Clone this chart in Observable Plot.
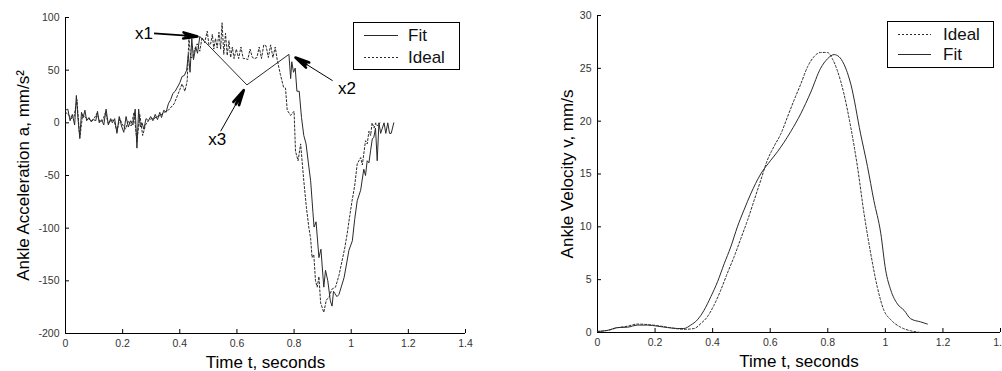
<!DOCTYPE html>
<html>
<head>
<meta charset="utf-8">
<script src="https://cdn.jsdelivr.net/npm/d3@7"></script>
<script src="https://cdn.jsdelivr.net/npm/@observablehq/plot@0.6"></script>
<style>
  html, body { margin: 0; padding: 0; background: #fff; overflow: hidden; }
  #wrap { position: relative; width: 1002px; height: 371px; overflow: hidden; font-family: "Liberation Sans", Arial, sans-serif; }
  .panel { position: absolute; top: 0; }
  .legend { position: absolute; border: 1px solid #000; background: #fff; box-sizing: border-box; }
  .legend svg { position: absolute; left: 0; top: 0; }
  .legend span { position: absolute; font-size: 17px; line-height: 1; color: #111; }
</style>
</head>
<body>
<div id="wrap">
  <div id="left" class="panel" style="left:0"></div>
  <div id="right" class="panel" style="left:500px"></div>
</div>
<script>
// ---------------- data ----------------
const xTicks = [0, 0.2, 0.4, 0.6, 0.8, 1, 1.2, 1.4];
const accTicks = [-200, -150, -100, -50, 0, 50, 100];
const velTicks = [0, 5, 10, 15, 20, 25, 30];

// Left: ankle acceleration (mm/s^2)
const fitAccT = [0.000,0.008,0.016,0.024,0.032,0.038,0.044,0.050,0.056,0.062,0.068,0.074,0.082,0.090,0.098,0.106,0.112,0.118,0.126,0.134,0.142,0.150,0.158,0.164,0.172,0.180,0.188,0.196,0.204,0.212,0.220,0.228,0.236,0.244,0.250,0.256,0.262,0.268,0.274,0.282,0.290,0.298,0.306,0.314,0.322,0.330,0.336,0.344,0.352,0.360,0.368,0.376,0.384,0.392,0.400,0.408,0.416,0.424,0.430,0.436,0.442,0.448,0.456,0.462,0.470,0.635,0.782,0.788,0.792,0.798,0.804,0.810,0.818,0.826,0.834,0.842,0.850,0.858,0.866,0.870,0.877,0.887,0.894,0.904,0.910,0.918,0.927,0.933,0.938,0.943,0.950,0.957,0.966,0.975,0.983,0.992,1.004,1.012,1.021,1.033,1.044,1.050,1.056,1.062,1.068,1.074,1.079,1.085,1.091,1.097,1.103,1.109,1.115,1.121,1.128,1.134,1.140,1.149];
const fitAccV = [12,13,2,8,-2,26,3,-14,10,5,12,2,5,1,3,2,11,0,3,-2,13,-2,4,0,4,-10,6,-3,-9,6,-4,2,-2,13,-24,13,-4,0,-6,4,2,6,2,8,3,10,5,12,10,18,22,28,30,34,38,44,45,50,65,48,80,60,72,66,82,36,65,42,58,48,52,30,30,5,-12,-20,-38,-55,-85,-99,-94,-128,-120,-156,-140,-150,-169,-174,-160,-162,-165,-163,-155,-147,-135,-121,-112,-92,-74,-64,-44,-50,-36,-38,-26,-15,-14,-5,-36,0,-10,-5,0,-10,0,-10,-10,0];

const idealAccT = [0.000,0.010,0.020,0.030,0.040,0.050,0.060,0.070,0.080,0.090,0.100,0.110,0.120,0.130,0.140,0.150,0.160,0.170,0.180,0.190,0.200,0.210,0.220,0.230,0.240,0.250,0.260,0.270,0.280,0.290,0.300,0.310,0.320,0.333,0.345,0.360,0.380,0.395,0.408,0.418,0.426,0.432,0.438,0.445,0.452,0.461,0.470,0.478,0.487,0.496,0.502,0.508,0.514,0.519,0.525,0.531,0.537,0.543,0.548,0.554,0.560,0.566,0.572,0.578,0.584,0.590,0.598,0.606,0.614,0.622,0.630,0.638,0.646,0.654,0.662,0.670,0.678,0.686,0.694,0.702,0.710,0.718,0.726,0.734,0.741,0.752,0.763,0.770,0.776,0.788,0.800,0.805,0.814,0.823,0.834,0.843,0.852,0.858,0.863,0.869,0.875,0.881,0.887,0.893,0.904,0.913,0.922,0.932,0.945,0.957,0.968,0.978,0.986,0.995,1.003,1.012,1.021,1.027,1.033,1.039,1.050,1.056,1.062,1.068,1.073,1.080,1.086,1.092,1.100];
const idealAccV = [10,8,4,6,22,-15,8,5,4,2,4,9,1,2,10,-1,3,2,-8,4,-2,-6,2,-3,10,-18,8,-12,-2,2,4,4,6,7,10,12,18,28,37,30,40,81,62,62,70,75,68,81,76,87,74,75,84,70,80,71,86,70,95,65,85,64,78,62,72,61,70,61,72,61,61,60,70,62,61,62,72,61,74,73,62,74,62,72,60,46,34,33,12,7,11,-27,-36,-20,-55,-80,-100,-110,-128,-125,-150,-156,-146,-171,-180,-168,-166,-158,-156,-145,-131,-118,-105,-88,-74,-60,-39,-36,-33,-40,-17,-20,-8,-12,0,-5,0,-3,0];

// Right: ankle velocity (mm/s)
const fitVelT = [0.000,0.035,0.070,0.104,0.139,0.174,0.208,0.243,0.278,0.300,0.324,0.347,0.370,0.394,0.417,0.440,0.463,0.486,0.509,0.532,0.567,0.602,0.625,0.648,0.671,0.706,0.741,0.775,0.799,0.822,0.839,0.856,0.880,0.914,0.938,0.960,0.984,1.001,1.019,1.042,1.065,1.088,1.123,1.146];
const fitVelV = [0.1,0.2,0.47,0.5,0.7,0.7,0.6,0.47,0.38,0.38,0.7,1.2,2.1,3.4,4.8,6.5,8.1,10.0,11.6,13.1,15.0,16.3,17.1,18.0,19.0,20.7,22.75,25.0,25.9,26.3,26.1,25.4,23.5,18.8,15.7,12.5,9.4,5.9,4.0,2.7,2.1,1.3,1.0,0.8];

const idealVelT = [0.000,0.035,0.070,0.104,0.139,0.174,0.208,0.243,0.278,0.300,0.336,0.359,0.382,0.405,0.428,0.451,0.475,0.498,0.521,0.544,0.567,0.590,0.613,0.637,0.660,0.683,0.706,0.729,0.752,0.775,0.799,0.816,0.833,0.856,0.880,0.903,0.926,0.949,0.972,0.995,1.019,1.053,1.088,1.123];
const idealVelV = [0.1,0.2,0.45,0.6,0.8,0.75,0.65,0.5,0.35,0.3,0.38,0.85,1.5,2.6,4.0,5.6,7.2,8.9,10.6,12.5,14.4,16.3,17.6,18.8,20.4,22.0,23.5,25.1,26.1,26.5,26.5,25.9,24.8,22.6,19.4,15.7,11.25,7.5,4.3,2.1,1.2,0.5,0.16,0.0];

// Annotations on the acceleration panel
const annLabels = ["x1", "x2", "x3"];
const annTextT = [0.275, 0.985, 0.531];
const annTextA = [85, 33, -16];
const annFromT = [0.31, 0.935, 0.543];
const annFromA = [85, 40, -8];
const annToT = [0.462, 0.805, 0.624];
const annToA = [82, 62, 31];
const annShaftWidth = [1.8, 1, 1];

// ---------------- build ----------------
const zip = (T, V) => T.map((t, i) => ({t, v: V[i]}));
const fitAcc = zip(fitAccT, fitAccV);
const idealAcc = zip(idealAccT, idealAccV);
const fitVel = zip(fitVelT, fitVelV);
const idealVel = zip(idealVelT, idealVelV);
const ann = annLabels.map((l, i) => ({l, tx: annTextT[i], ty: annTextA[i], x1: annFromT[i], y1: annFromA[i], x2: annToT[i], y2: annToA[i], w: annShaftWidth[i]}));

const fmt = d => String(+d.toFixed(1));
const baseStyle = {fontFamily: '"Liberation Sans", Arial, sans-serif', fontSize: "10.5px", color: "#333", background: "transparent", overflow: "visible"};
const lineColor = "#2a2a2a";

function axes(yTicks, yMin, xLabel, yLabel, yLabelDx) {
  return [
    Plot.ruleX([0], {stroke: "#000", strokeWidth: 1}),
    Plot.ruleY([yMin], {stroke: "#000", strokeWidth: 1}),
    Plot.axisX(xTicks, {anchor: "bottom", tickSize: -4, tickPadding: 10, tickFormat: fmt, label: null, stroke: "#000"}),
    Plot.axisY(yTicks, {anchor: "left", tickSize: -4, tickPadding: 10, tickFormat: d => String(d), label: null, stroke: "#000"}),
    Plot.text([xLabel], {frameAnchor: "bottom", textAnchor: "middle", lineAnchor: "middle", dy: 29, fontSize: 17, fill: "#000"}),
    Plot.text([yLabel], {frameAnchor: "left", textAnchor: "middle", lineAnchor: "middle", rotate: -90, dx: yLabelDx, fontSize: 17, fill: "#000"})
  ];
}

const left = Plot.plot({
  width: 500, height: 371,
  marginLeft: 65, marginRight: 35, marginTop: 17, marginBottom: 38,
  x: {domain: [0, 1.4]},
  y: {domain: [-200, 100]},
  style: baseStyle,
  marks: [
    ...axes(accTicks, -200, "Time t, seconds", "Ankle Acceleration a, mm/s²", -42),
    Plot.line(idealAcc, {x: "t", y: "v", stroke: lineColor, strokeWidth: 1, strokeDasharray: "2,2"}),
    Plot.line(fitAcc, {x: "t", y: "v", stroke: lineColor, strokeWidth: 1}),
    // arrow shafts
    Plot.link(ann, {x1: "x1", y1: "y1", x2: "x2", y2: "y2", stroke: "#000", strokeWidth: "w", insetEnd: 4}),
    // filled-looking arrowheads
    Plot.arrow(ann, {x1: "x1", y1: "y1", x2: "x2", y2: "y2", stroke: "#000", strokeWidth: 2.6, headLength: 11, headAngle: 24, insetStart: 31, strokeLinejoin: "miter"}),
    Plot.text(ann, {x: "tx", y: "ty", text: "l", fontSize: 17, fill: "#000"})
  ]
});
document.getElementById("left").appendChild(left);

const right = Plot.plot({
  width: 502, height: 371,
  marginLeft: 97, marginRight: 2, marginTop: 15, marginBottom: 39,
  x: {domain: [0, 1.4]},
  y: {domain: [0, 30]},
  style: baseStyle,
  marks: [
    ...axes(velTicks, 0, "Time t, seconds", "Ankle Velocity v, mm/s", -30),
    Plot.line(idealVel, {x: "t", y: "v", stroke: lineColor, strokeWidth: 1, strokeDasharray: "2,2", curve: "monotone-x"}),
    Plot.line(fitVel, {x: "t", y: "v", stroke: lineColor, strokeWidth: 1, curve: "monotone-x"})
  ]
});
document.getElementById("right").appendChild(right);

// ---------------- legends ----------------
function legend(items, box) {
  const div = document.createElement("div");
  div.className = "legend";
  Object.assign(div.style, {left: box.left + "px", top: box.top + "px", width: box.w + "px", height: box.h + "px"});
  const ns = "http://www.w3.org/2000/svg";
  const svg = document.createElementNS(ns, "svg");
  svg.setAttribute("width", box.w); svg.setAttribute("height", box.h);
  items.forEach((it, i) => {
    const y = box.rows[i];
    const ln = document.createElementNS(ns, "line");
    ln.setAttribute("x1", box.lx1); ln.setAttribute("x2", box.lx2);
    ln.setAttribute("y1", y); ln.setAttribute("y2", y);
    ln.setAttribute("stroke", lineColor);
    if (it.dash) ln.setAttribute("stroke-dasharray", "2,2");
    svg.appendChild(ln);
    const s = document.createElement("span");
    s.textContent = it.label;
    s.style.left = box.tx + "px";
    s.style.top = (y - 9) + "px";
    div.appendChild(s);
  });
  div.insertBefore(svg, div.firstChild);
  document.getElementById("wrap").appendChild(div);
}
legend([{label: "Fit", dash: false}, {label: "Ideal", dash: true}],
  {left: 353, top: 22, w: 107, h: 48, rows: [12.5, 34.5], lx1: 10, lx2: 44, tx: 54});
legend([{label: "Ideal", dash: true}, {label: "Fit", dash: false}],
  {left: 887, top: 21, w: 107, h: 47, rows: [12.5, 32.5], lx1: 10, lx2: 43, tx: 55});
</script>
</body>
</html>
